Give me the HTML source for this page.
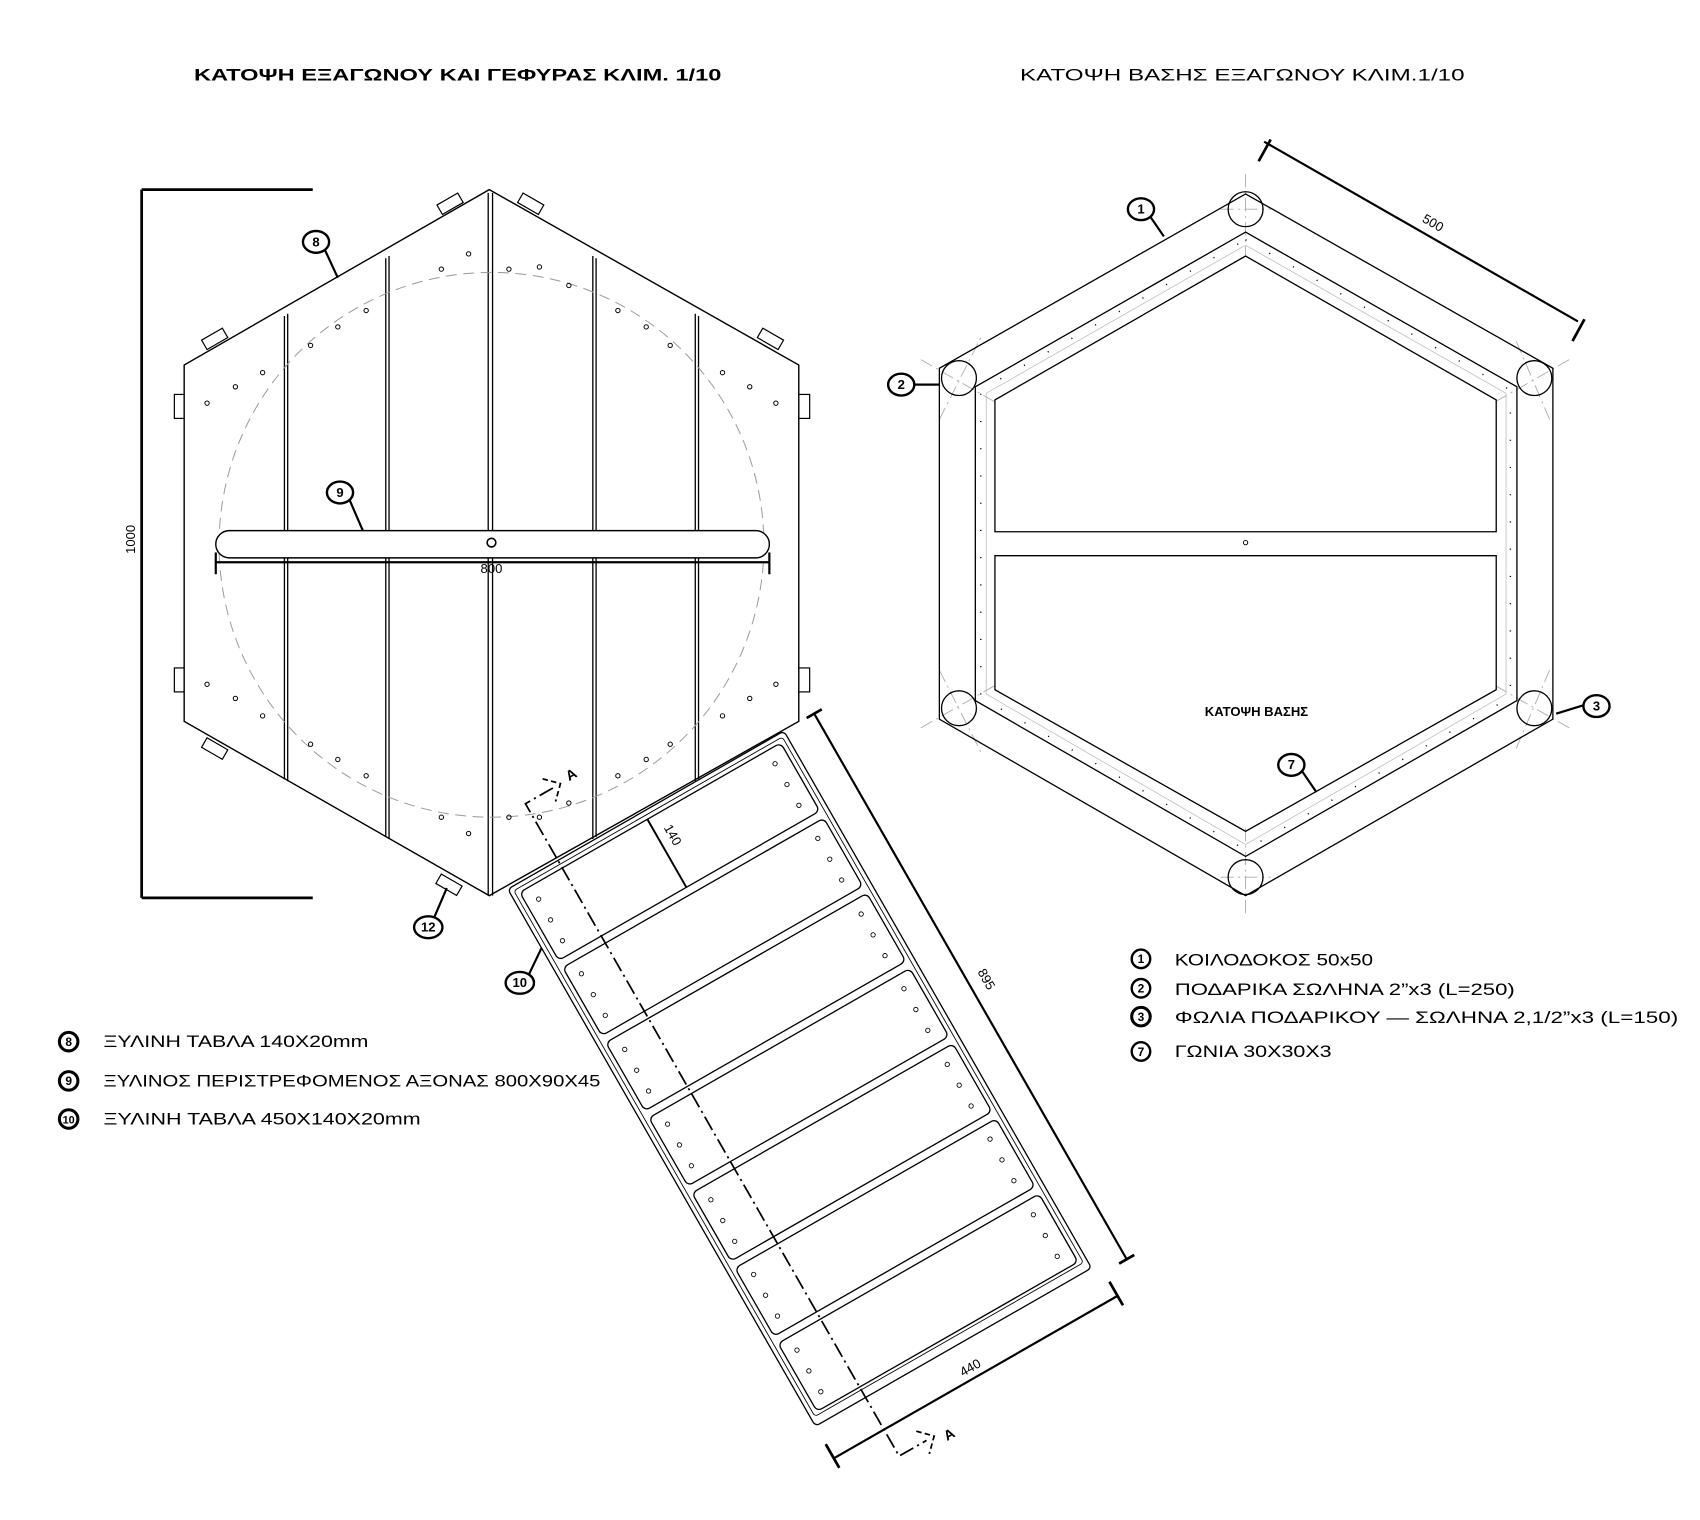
<!DOCTYPE html>
<html><head><meta charset="utf-8"><style>
html,body{margin:0;padding:0;background:#fff;}
svg{display:block;}
text{font-family:"Liberation Sans","DejaVu Sans",sans-serif;fill:#000;}
</style></head><body>
<svg width="1700" height="1520" viewBox="0 0 1560 1395" preserveAspectRatio="none" xmlns="http://www.w3.org/2000/svg">
<rect width="1560" height="1395" fill="#fff"/>
<!-- titles -->
<text x="420" y="74" font-size="15.5" font-weight="bold" text-anchor="middle" textLength="484" lengthAdjust="spacingAndGlyphs">ΚΑΤΟΨΗ ΕΞΑΓΩΝΟΥ ΚΑΙ ΓΕΦΥΡΑΣ ΚΛΙΜ. 1/10</text>
<text x="1140" y="74" font-size="15.5" text-anchor="middle" textLength="408" lengthAdjust="spacingAndGlyphs">ΚΑΤΟΨΗ  ΒΑΣΗΣ ΕΞΑΓΩΝΟΥ ΚΛΙΜ.1/10</text>

<!-- LEFT HEXAGON -->
<g fill="none" stroke="#000" stroke-width="1.3">
<g stroke-width="1.1" fill="#fff">
<rect x="-11" y="-5" width="22" height="10" transform="translate(413,187) rotate(-30)"/>
<rect x="-11" y="-5" width="22" height="10" transform="translate(487,187) rotate(30)"/>
<rect x="-11" y="-5" width="22" height="10" transform="translate(197,311) rotate(-30)"/>
<rect x="-11" y="-5" width="22" height="10" transform="translate(707,311) rotate(30)"/>
<rect x="160" y="362" width="10" height="22"/>
<rect x="160" y="613" width="10" height="22"/>
<rect x="733" y="362" width="10" height="22"/>
<rect x="733" y="613" width="10" height="22"/>
<rect x="-11" y="-5" width="22" height="10" transform="translate(197,687) rotate(30)"/>
<rect x="-11" y="-5" width="22" height="10" transform="translate(412,812) rotate(30)"/>
</g>
<polygon points="449,174 733,335 733,662 449,822 169,662 169,335" fill="#fff"/>
<g stroke-width="1.2">
<line x1="261" y1="290" x2="261" y2="715"/><line x1="264" y1="288" x2="264" y2="717"/>
<line x1="354" y1="237" x2="354" y2="768"/><line x1="357" y1="235" x2="357" y2="770"/>
<line x1="448" y1="177" x2="448" y2="822"/><line x1="452" y1="177" x2="452" y2="822"/>
<line x1="544" y1="235" x2="544" y2="770"/><line x1="547" y1="237" x2="547" y2="768"/>
<line x1="638" y1="288" x2="638" y2="717"/><line x1="641" y1="290" x2="641" y2="715"/>
</g>
<circle cx="451" cy="500" r="250" stroke="#999" stroke-width="0.9" stroke-dasharray="10 6"/>
<g stroke-width="0.9">
<circle cx="430" cy="233" r="2"/><circle cx="405" cy="247" r="2"/><circle cx="467" cy="247" r="2"/><circle cx="495" cy="245" r="2"/><circle cx="522" cy="262" r="2"/>
<circle cx="285" cy="317" r="2"/><circle cx="310" cy="300" r="2"/><circle cx="336" cy="285" r="2"/>
<circle cx="567" cy="285" r="2"/><circle cx="593" cy="300" r="2"/><circle cx="615" cy="317" r="2"/>
<circle cx="190" cy="370" r="2"/><circle cx="216" cy="355" r="2"/><circle cx="241" cy="342" r="2"/>
<circle cx="663" cy="342" r="2"/><circle cx="688" cy="355" r="2"/><circle cx="712" cy="370" r="2"/>
<circle cx="190" cy="628" r="2"/><circle cx="216" cy="641" r="2"/><circle cx="241" cy="657" r="2"/>
<circle cx="663" cy="657" r="2"/><circle cx="688" cy="641" r="2"/><circle cx="712" cy="628" r="2"/>
<circle cx="285" cy="683" r="2"/><circle cx="310" cy="697" r="2"/><circle cx="336" cy="712" r="2"/>
<circle cx="567" cy="712" r="2"/><circle cx="593" cy="697" r="2"/><circle cx="615" cy="683" r="2"/>
<circle cx="405" cy="750" r="2"/><circle cx="430" cy="765" r="2"/><circle cx="467" cy="750" r="2"/><circle cx="495" cy="750" r="2"/><circle cx="522" cy="737" r="2"/>
</g>
<rect x="198" y="487" width="508" height="25" rx="12.5" fill="#fff" stroke-width="1.3"/>
<circle cx="451" cy="498" r="4" stroke-width="1.5"/>
<line x1="198" y1="516" x2="706" y2="516" stroke-width="2"/>
<line x1="198" y1="507" x2="198" y2="527" stroke-width="2"/>
<line x1="706" y1="507" x2="706" y2="527" stroke-width="2"/>
<g stroke-width="2.5">
<line x1="130" y1="174" x2="130" y2="824"/>
<line x1="130" y1="174" x2="287" y2="174"/>
<line x1="130" y1="824" x2="287" y2="824"/>
</g>
</g>
<text x="451" y="526" font-size="12" text-anchor="middle">800</text>
<text x="0" y="0" font-size="12" text-anchor="middle" transform="translate(124,495) rotate(-90)">1000</text>

<!-- BRIDGE -->
<g transform="translate(466,816) rotate(-29.8)" fill="none" stroke="#000">
<rect x="0" y="0" width="292" height="568" rx="4" stroke-width="1.2" fill="#fff"/>
<rect x="4" y="4" width="284" height="556" rx="3" stroke-width="0.8"/>
<g stroke-width="1.2">
<rect x="8" y="8" width="276" height="72" rx="5"/>
<rect x="8" y="87.5" width="276" height="72" rx="5"/>
<rect x="8" y="167" width="276" height="72" rx="5"/>
<rect x="8" y="246.5" width="276" height="72" rx="5"/>
<rect x="8" y="326" width="276" height="72" rx="5"/>
<rect x="8" y="405.5" width="276" height="72" rx="5"/>
<rect x="8" y="485" width="276" height="72" rx="5"/>
</g>
<g stroke-width="0.8">
<circle cx="20" cy="22" r="2"/><circle cx="20" cy="44" r="2"/><circle cx="20" cy="66" r="2"/><circle cx="270" cy="22" r="2"/><circle cx="270" cy="44" r="2"/><circle cx="270" cy="66" r="2"/>
<circle cx="20" cy="101" r="2"/><circle cx="20" cy="123" r="2"/><circle cx="20" cy="145" r="2"/><circle cx="270" cy="101" r="2"/><circle cx="270" cy="123" r="2"/><circle cx="270" cy="145" r="2"/>
<circle cx="20" cy="181" r="2"/><circle cx="20" cy="203" r="2"/><circle cx="20" cy="225" r="2"/><circle cx="270" cy="181" r="2"/><circle cx="270" cy="203" r="2"/><circle cx="270" cy="225" r="2"/>
<circle cx="20" cy="260" r="2"/><circle cx="20" cy="282" r="2"/><circle cx="20" cy="304" r="2"/><circle cx="270" cy="260" r="2"/><circle cx="270" cy="282" r="2"/><circle cx="270" cy="304" r="2"/>
<circle cx="20" cy="340" r="2"/><circle cx="20" cy="362" r="2"/><circle cx="20" cy="384" r="2"/><circle cx="270" cy="340" r="2"/><circle cx="270" cy="362" r="2"/><circle cx="270" cy="384" r="2"/>
<circle cx="20" cy="419" r="2"/><circle cx="20" cy="441" r="2"/><circle cx="20" cy="463" r="2"/><circle cx="270" cy="419" r="2"/><circle cx="270" cy="441" r="2"/><circle cx="270" cy="463" r="2"/>
<circle cx="20" cy="499" r="2"/><circle cx="20" cy="521" r="2"/><circle cx="20" cy="543" r="2"/><circle cx="270" cy="499" r="2"/><circle cx="270" cy="521" r="2"/><circle cx="270" cy="543" r="2"/>
</g>
<path d="M82,-60 L53,-60 L53,630 L82,630" stroke-width="1.6" stroke-dasharray="14 4 2 4"/>
<path d="M78,-72 L90,-60 L78,-48" stroke-width="1.6" stroke-dasharray="5 3"/>
<path d="M78,618 L90,630 L78,642" stroke-width="1.6" stroke-dasharray="5 3"/>
<line x1="143" y1="8" x2="143" y2="80" stroke-width="1.8"/>
<line x1="324" y1="0" x2="324" y2="577" stroke-width="2"/>
<line x1="316" y1="0" x2="332" y2="0" stroke-width="2.5"/>
<line x1="316" y1="577" x2="332" y2="577" stroke-width="2.5"/>
<line x1="0" y1="602" x2="300" y2="602" stroke-width="2"/>
<line x1="0" y1="587" x2="0" y2="612" stroke-width="2.5"/>
<line x1="300" y1="587" x2="300" y2="612" stroke-width="2.5"/>
</g>
<g transform="translate(466,816) rotate(-29.8)">
<text x="98" y="-58" font-size="13" font-weight="bold">A</text>
<text x="98" y="640" font-size="13" font-weight="bold">A</text>
<text x="0" y="0" font-size="12" transform="translate(152,32) rotate(90)" text-anchor="middle">140</text>
<text x="0" y="0" font-size="12" transform="translate(336,290) rotate(90)" text-anchor="middle">895</text>
<text x="150" y="596" font-size="12" text-anchor="middle">440</text>
</g>

<!-- RIGHT HEXAGON -->
<g fill="none" stroke="#000" stroke-width="1.2">
<g stroke="#aaa" stroke-width="0.8" stroke-dasharray="12 4 2 4">
<line x1="1143" y1="160" x2="1143" y2="235"/><line x1="1120" y1="192" x2="1166" y2="192"/>
<line x1="1143" y1="760" x2="1143" y2="838"/><line x1="1120" y1="805" x2="1166" y2="805"/>
<line x1="845" y1="330" x2="915" y2="370"/><line x1="862" y1="385" x2="900" y2="310"/>
<line x1="1440" y1="330" x2="1370" y2="370"/><line x1="1422" y1="385" x2="1390" y2="310"/>
<line x1="845" y1="668" x2="915" y2="628"/><line x1="862" y1="615" x2="900" y2="690"/>
<line x1="1440" y1="668" x2="1370" y2="628"/><line x1="1422" y1="615" x2="1390" y2="690"/>
</g>
<polygon points="1143,178 1425,338 1425,660 1143,822 862,660 862,338"/>
<polygon points="1143,213 1392,355 1392,643 1143,786 895,643 895,355"/>
<polygon points="1143,225 1382,361 1382,637 1143,775 905,637 905,361" stroke="#bbb" stroke-width="0.7"/>
<polygon points="1143,235 1373,367 1373,488 913,488 913,367"/>
<polygon points="913,510 1373,510 1373,633 1143,763 913,633"/>
<polygon points="1143,220 1386,358 1386,640 1143,780 900,640 900,358" stroke-width="1.3" stroke-dasharray="1 24"/>
<circle cx="1143" cy="192" r="16"/><circle cx="880" cy="347" r="16"/><circle cx="1408" cy="347" r="16"/>
<circle cx="880" cy="650" r="16"/><circle cx="1408" cy="650" r="16"/><circle cx="1143" cy="805" r="16"/>
<circle cx="1143" cy="498" r="2" stroke-width="0.9"/>
<line x1="1160" y1="130" x2="1448" y2="295" stroke-width="2"/>
<line x1="1166" y1="128" x2="1155" y2="148" stroke-width="2.5"/>
<line x1="1454" y1="293" x2="1443" y2="313" stroke-width="2.5"/>
</g>
<text x="0" y="0" font-size="12" text-anchor="middle" transform="translate(1313,208) rotate(29.8)">500</text>
<text x="1153" y="657" font-size="12" font-weight="bold" text-anchor="middle">ΚΑΤΟΨΗ ΒΑΣΗΣ</text>

<!-- callouts -->
<g fill="none" stroke="#000" stroke-width="2">
<line x1="298" y1="229" x2="310" y2="255"/>
<line x1="320" y1="457" x2="333" y2="487"/>
<line x1="398" y1="843" x2="410" y2="815"/>
<line x1="485" y1="895" x2="497" y2="870"/>
<line x1="1055" y1="198" x2="1068" y2="217"/>
<line x1="838" y1="353" x2="862" y2="353"/>
<line x1="1454" y1="647" x2="1428" y2="655"/>
<line x1="1195" y1="708" x2="1208" y2="727"/>
</g>
<g font-size="12" font-weight="bold" text-anchor="middle">
<ellipse cx="290" cy="222" rx="12" ry="10" fill="#fff" stroke="#000" stroke-width="2.2"/><text x="290" y="226">8</text>
<ellipse cx="312" cy="452" rx="12" ry="10" fill="#fff" stroke="#000" stroke-width="2.2"/><text x="312" y="456">9</text>
<ellipse cx="393" cy="851" rx="13" ry="10" fill="#fff" stroke="#000" stroke-width="2.2"/><text x="393" y="855">12</text>
<ellipse cx="477" cy="902" rx="13" ry="10" fill="#fff" stroke="#000" stroke-width="2.2"/><text x="477" y="906">10</text>
<ellipse cx="1047" cy="192" rx="12" ry="10" fill="#fff" stroke="#000" stroke-width="2.2"/><text x="1047" y="196">1</text>
<ellipse cx="827" cy="353" rx="12" ry="10" fill="#fff" stroke="#000" stroke-width="2.2"/><text x="827" y="357">2</text>
<ellipse cx="1465" cy="648" rx="12" ry="10" fill="#fff" stroke="#000" stroke-width="2.2"/><text x="1465" y="652">3</text>
<ellipse cx="1185" cy="702" rx="12" ry="10" fill="#fff" stroke="#000" stroke-width="2.2"/><text x="1185" y="706">7</text>
</g>

<!-- legends -->
<g font-size="11" font-weight="bold" text-anchor="middle">
<circle cx="63" cy="956" r="8.5" fill="#fff" stroke="#000" stroke-width="2.8"/><text x="63" y="960">8</text>
<circle cx="63" cy="992" r="8.5" fill="#fff" stroke="#000" stroke-width="2.8"/><text x="63" y="996">9</text>
<circle cx="63" cy="1027" r="8.5" fill="#fff" stroke="#000" stroke-width="2.8"/><text x="63" y="1031" font-size="10">10</text>
<circle cx="1047" cy="880" r="8.5" fill="#fff" stroke="#000" stroke-width="2.2"/><text x="1047" y="884">1</text>
<circle cx="1047" cy="907" r="8.5" fill="#fff" stroke="#000" stroke-width="2.2"/><text x="1047" y="911">2</text>
<circle cx="1047" cy="933" r="8.5" fill="#fff" stroke="#000" stroke-width="2.8"/><text x="1047" y="937">3</text>
<circle cx="1047" cy="965" r="8.5" fill="#fff" stroke="#000" stroke-width="2.2"/><text x="1047" y="969">7</text>
</g>
<g font-size="15" font-family="DejaVu Sans, sans-serif">
<text x="95" y="961" textLength="243" lengthAdjust="spacingAndGlyphs">ΞΥΛΙΝΗ  ΤΑΒΛΑ 140X20mm</text>
<text x="95" y="997" textLength="456" lengthAdjust="spacingAndGlyphs">ΞΥΛΙΝΟΣ  ΠΕΡΙΣΤΡΕΦΟΜΕΝΟΣ  ΑΞΟΝΑΣ  800X90X45</text>
<text x="95" y="1032" textLength="291" lengthAdjust="spacingAndGlyphs">ΞΥΛΙΝΗ  ΤΑΒΛΑ 450X140X20mm</text>
<text x="1078" y="886" textLength="182" lengthAdjust="spacingAndGlyphs">ΚΟΙΛΟΔΟΚΟΣ 50x50</text>
<text x="1078" y="913" textLength="312" lengthAdjust="spacingAndGlyphs">ΠΟΔΑΡΙΚΑ ΣΩΛΗΝΑ 2”x3 (L=250)</text>
<text x="1078" y="939" textLength="462" lengthAdjust="spacingAndGlyphs">ΦΩΛΙΑ ΠΟΔΑΡΙΚΟΥ  —  ΣΩΛΗΝΑ   2,1/2”x3  (L=150)</text>
<text x="1078" y="970" textLength="144" lengthAdjust="spacingAndGlyphs">ΓΩΝΙΑ 30X30X3</text>
</g>
</svg>
</body></html>
